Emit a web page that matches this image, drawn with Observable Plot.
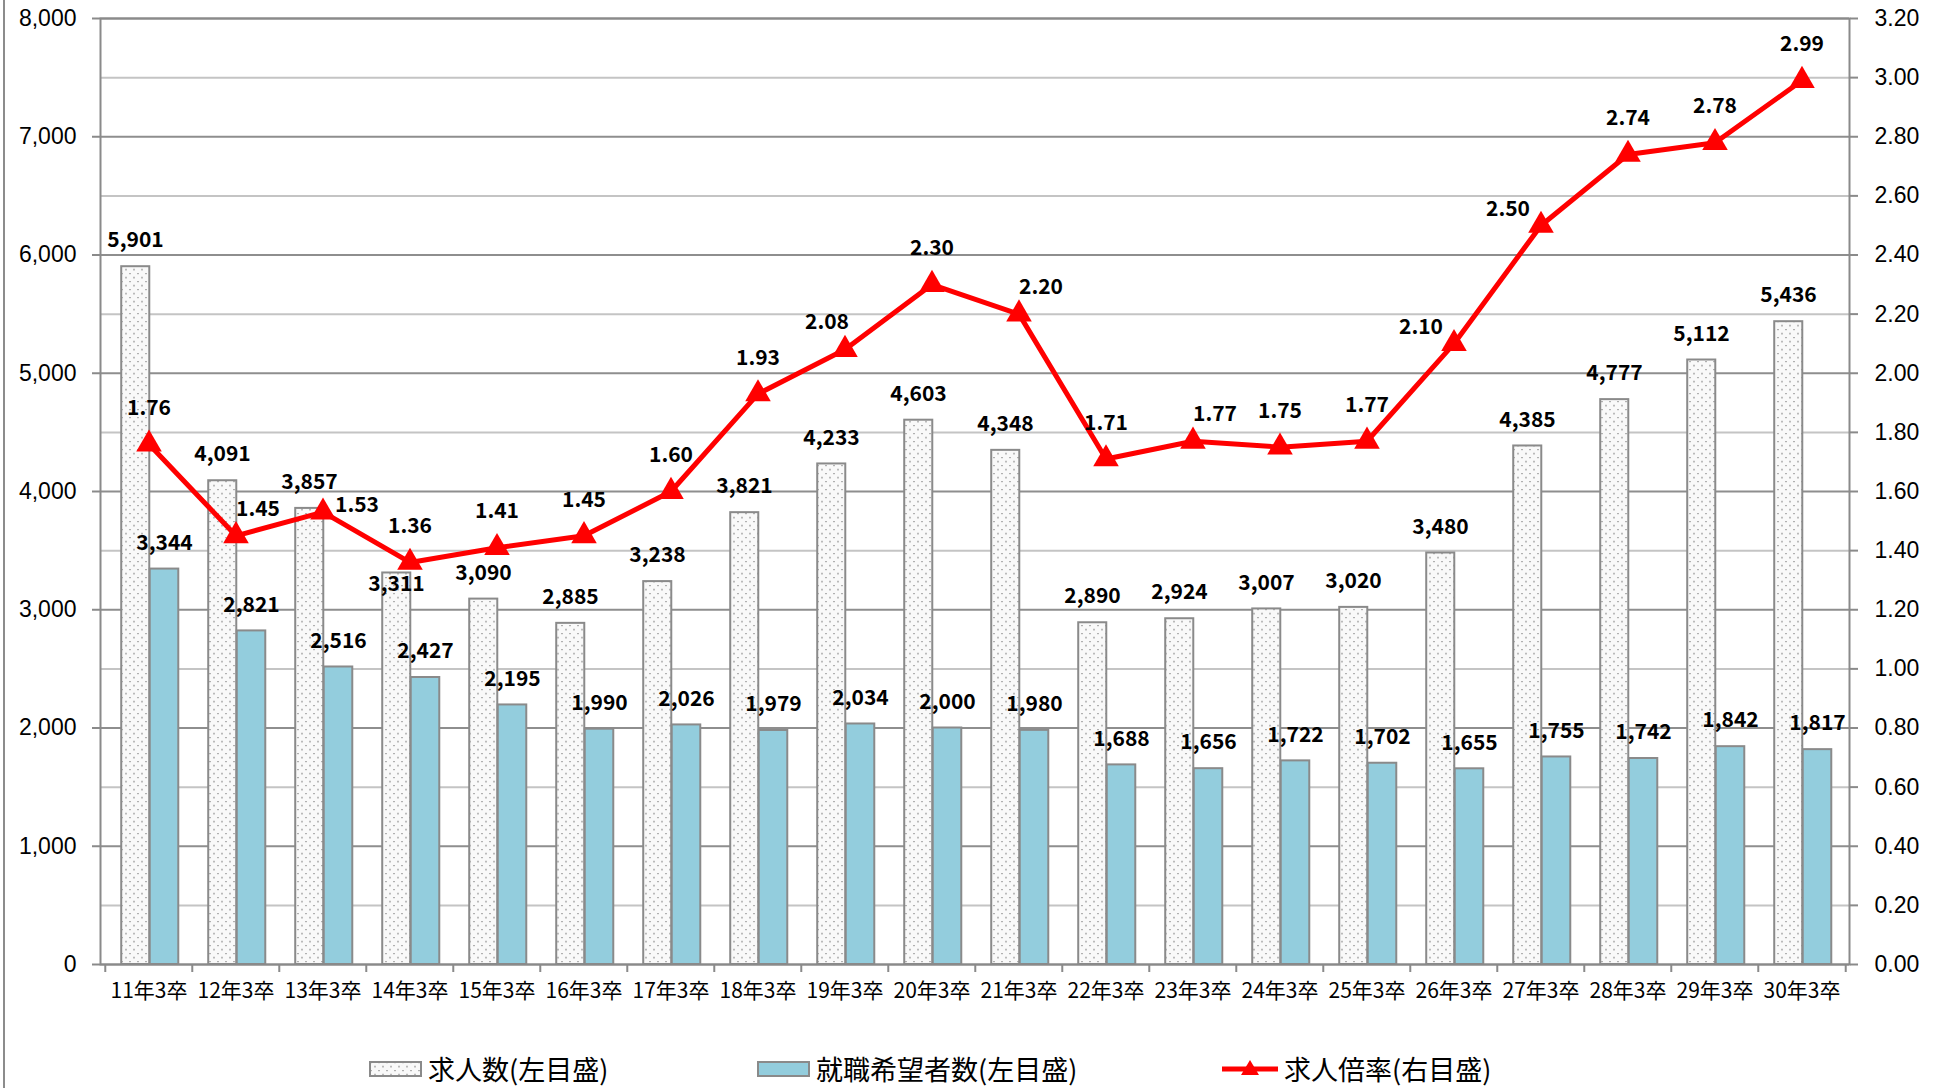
<!DOCTYPE html>
<html><head><meta charset="utf-8">
<script src="https://cdn.jsdelivr.net/npm/d3@7"></script>
<script src="https://cdn.jsdelivr.net/npm/@observablehq/plot@0.6"></script>
<style>
body{margin:0;background:#fff;overflow:hidden;}
#wrap{position:relative;width:1944px;height:1088px;overflow:hidden;}
#frame{position:absolute;left:3px;top:0;width:2px;height:1088px;background:#8c8c8c;}
#legend{position:absolute;left:0;top:1055px;width:1944px;height:28px;font-family:"Noto Sans CJK JP";font-size:27px;line-height:28px;color:#000;}
.item{position:absolute;top:0;height:28px;display:flex;align-items:center;white-space:nowrap;}
</style></head><body>
<div id="wrap"><div id="chart"></div><div id="frame"></div><div id="legend"></div></div>
<script>
const categories = ["11年3卒","12年3卒","13年3卒","14年3卒","15年3卒","16年3卒","17年3卒","18年3卒","19年3卒","20年3卒","21年3卒","22年3卒","23年3卒","24年3卒","25年3卒","26年3卒","27年3卒","28年3卒","29年3卒","30年3卒"];
const jobOffers = [5901,4091,3857,3311,3090,2885,3238,3821,4233,4603,4348,2890,2924,3007,3020,3480,4385,4777,5112,5436];
const applicants = [3344,2821,2516,2427,2195,1990,2026,1979,2034,2000,1980,1688,1656,1722,1702,1655,1755,1742,1842,1817];
const ratios = [1.76,1.45,1.53,1.36,1.41,1.45,1.60,1.93,2.08,2.30,2.20,1.71,1.77,1.75,1.77,2.10,2.50,2.74,2.78,2.99];
// label placement keywords (as set in the original chart)
const offerLabelSide = ["above","above","above","inside","above","above","above","above","above","above","above","above","above","above","above","above","above","above","above","above"];
const ratioLabelSide = ["above","upper-right","right","above","above","above","above","above","upper-left","above","upper-right","above","upper-right","above","above","left","left","above","above","above"];
const leftTicks = [0,1000,2000,3000,4000,5000,6000,7000,8000];
const rightTicks = [0,0.2,0.4,0.6,0.8,1.0,1.2,1.4,1.6,1.8,2.0,2.2,2.4,2.6,2.8,3.0,3.2];
const seriesNames = ["求人数(左目盛)","就職希望者数(左目盛)","求人倍率(右目盛)"];
const ratioScale = 2500; // right axis 3.20 ↔ left axis 8,000

const data = categories.map((c,i)=>({cat:c, offers:jobOffers[i], applicants:applicants[i], ratio:ratios[i], side:ratioLabelSide[i], oside:offerLabelSide[i]}));

const W = 1944, H = 1052;
const mL = 100, mR = 95, mT = 18, mB = H - 964;
const bw = (W - mL - mR) / categories.length;
const blue = "#93cddd";
const edge = "#8a8a8a";
const fmt = d3.format(",");
const font = "'Noto Sans CJK JP', sans-serif";
const axisFont = "'Liberation Sans', Arial, sans-serif";
const sideDx = {"above": 0, "right": 34, "left": -33, "upper-right": 22, "upper-left": -18};
const sideDy = {"above": -36, "right": -7, "left": -16, "upper-right": -27, "upper-left": -27};
const oDy = {"above": -26, "inside": 11};

const ratioLabels = side => Plot.text(data.filter(d => d.side === side), {
  x: "cat", y: d => d.ratio*ratioScale, text: d => d.ratio.toFixed(2),
  dx: sideDx[side], dy: sideDy[side], fontSize: 21, fontWeight: "bold"
});
const offerLabels = side => Plot.text(data.filter(d => d.oside === side), {
  x: "cat", y: "offers", text: d => fmt(d.offers), dx: -13.5, dy: oDy[side], fontSize: 21, fontWeight: "bold"
});

const plot = Plot.plot({
  width: W, height: H,
  marginLeft: mL, marginRight: mR, marginTop: mT, marginBottom: mB,
  style: {fontFamily: font, color: "#000", background: "#fff"},
  x: {type: "band", domain: categories, padding: 0},
  y: {domain: [0, 8000]},
  marks: [
    Plot.ruleY(rightTicks.map(v => v*ratioScale).filter(v => v % 1000 !== 0), {stroke: "#c4c4c4", strokeWidth: 2}),
    Plot.ruleY(leftTicks, {stroke: "#8e8e8e", strokeWidth: 2}),
    Plot.frame({stroke: "#8a8a8a", strokeWidth: 2}),
    Plot.barY(data, {x: "cat", y: "offers", fill: "url(#dots)", stroke: edge, strokeWidth: 2,
      insetLeft: bw/2 - 27.5, insetRight: bw/2 - 1}),
    Plot.barY(data, {x: "cat", y: "applicants", fill: blue, stroke: edge, strokeWidth: 2,
      insetLeft: bw/2 + 1, insetRight: bw/2 - 30}),
    Plot.ruleX(categories, {x: d => d, y1: 0, y2: 0, dx: -bw/2, insetBottom: -8, stroke: "#8a8a8a", strokeWidth: 2}),
    Plot.ruleX(categories.slice(-1), {x: d => d, y1: 0, y2: 0, dx: bw/2, insetBottom: -8, stroke: "#8a8a8a", strokeWidth: 2}),
    Plot.line(data, {x: "cat", y: d => d.ratio*ratioScale, stroke: "#ff0000", strokeWidth: 5, strokeLinejoin: "miter"}),
    Plot.dot(data, {x: "cat", y: d => d.ratio*ratioScale, symbol: "triangle", r: 9.5, fill: "#ff0000", stroke: "none"}),
    offerLabels("above"), offerLabels("inside"),
    Plot.text(data, {x: "cat", y: "applicants", text: d => fmt(d.applicants), dx: 15.5, dy: -26, fontSize: 21, fontWeight: "bold"}),
    ...Object.keys(sideDx).map(ratioLabels),
    Plot.axisY({ticks: leftTicks, tickFormat: fmt, tickSize: 8, tickPadding: 16, fontSize: 23, fontFamily: axisFont, stroke: "#8a8a8a", strokeWidth: 2, label: null}),
    Plot.axisY({anchor: "right", ticks: rightTicks.map(v => v*ratioScale), tickFormat: d => (d/ratioScale).toFixed(2), tickSize: 8, tickPadding: 17, fontSize: 23, fontFamily: axisFont, stroke: "#8a8a8a", strokeWidth: 2, label: null}),
    Plot.axisX({tickSize: 0, tickPadding: 19, fontSize: 21, label: null})
  ]
});

// pattern definition for 求人数 bars
const defs = d3.select(plot).insert("defs", ":first-child");
const pat = defs.append("pattern").attr("id", "dots").attr("patternUnits", "userSpaceOnUse").attr("width", 8).attr("height", 8);
pat.append("rect").attr("width", 8).attr("height", 8).attr("fill", "#f9f9f9");
pat.append("rect").attr("x", 1).attr("y", 1).attr("width", 2).attr("height", 1.2).attr("fill", "#b0b0b0");
pat.append("rect").attr("x", 5).attr("y", 5).attr("width", 2).attr("height", 1.2).attr("fill", "#b0b0b0");
pat.append("rect").attr("x", 5.5).attr("y", 4.4).attr("width", 1).attr("height", 2.4).attr("fill", "#c4c4c4");
document.getElementById("chart").appendChild(plot);

// legend
const legend = d3.select("#legend");
const swatchSvg = (w, h, draw) => {
  const s = d3.create("svg").attr("width", w).attr("height", h).style("margin-right", "6px");
  draw(s);
  return s.node();
};
const items = [
  {left: 369, name: seriesNames[0], draw: s => s.append("rect").attr("x",1).attr("y",1).attr("width",51).attr("height",14).attr("fill","url(#dots)").attr("stroke",edge).attr("stroke-width",2), w: 53, h: 16},
  {left: 757, name: seriesNames[1], draw: s => s.append("rect").attr("x",1).attr("y",1).attr("width",51).attr("height",14).attr("fill",blue).attr("stroke",edge).attr("stroke-width",2), w: 53, h: 16},
  {left: 1222, name: seriesNames[2], draw: s => {
      s.append("line").attr("x1",0).attr("x2",56).attr("y1",12).attr("y2",12).attr("stroke","#ff0000").attr("stroke-width",5);
      s.append("path").attr("d","M28,3L37,18L19,18Z").attr("fill","#ff0000");
    }, w: 56, h: 24}
];
items.forEach(it => {
  const div = legend.append("div").attr("class","item").style("left", it.left + "px");
  div.node().appendChild(swatchSvg(it.w, it.h, it.draw));
  div.append("span").text(it.name);
});
</script>
</body></html>
